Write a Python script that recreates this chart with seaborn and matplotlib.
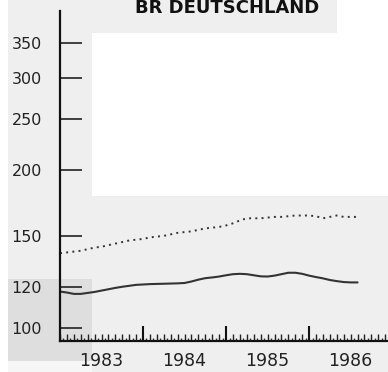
import numpy as np
import pandas as pd
import matplotlib
matplotlib.use('Agg')
import matplotlib.pyplot as plt
from matplotlib.patches import Rectangle
from matplotlib.ticker import FixedLocator, NullLocator
import seaborn as sns

title = 'BR DEUTSCHLAND'
years = ['1983', '1984', '1985', '1986']
y_ticks = [100, 120, 150, 200, 250, 300, 350]

# monthly values, Jan 1983 .. Aug 1986
upper = [139, 139.5, 140, 140.5, 141.5, 142.5, 143, 144, 145, 146,
         147, 147.5, 148, 149, 149.5, 150, 151, 152, 152.5, 153,
         154, 155, 155.5, 156, 157, 158.5, 160.5, 162, 162, 162,
         162.5, 163, 163, 163.5, 164, 164, 164, 163.5, 162, 163,
         164, 163, 163, 163]
lower = [117.5, 117, 116.3, 116.3, 116.8, 117.3, 118, 118.7, 119.4, 120,
         120.5, 121, 121.2, 121.4, 121.5, 121.6, 121.7, 121.8, 122, 122.8,
         123.8, 124.6, 125, 125.5, 126.2, 126.8, 127, 126.8, 126.2, 125.6,
         125.5, 126, 126.8, 127.6, 127.6, 127, 126, 125.2, 124.5, 123.6,
         123, 122.5, 122.3, 122.3]

df = pd.DataFrame({'month': np.arange(len(upper)), 'upper': upper, 'lower': lower})


def main():
    sns.set_style('ticks')
    plt.rcParams['font.family'] = ['DejaVu Sans']

    fig = plt.figure(figsize=(3.88, 3.72), dpi=100, facecolor='#efefef')

    # scanned page background
    W, H = 388.0, 372.0
    def box(x0, y0, x1, y1, color):
        fig.patches.append(Rectangle((x0 / W, 1 - y1 / H), (x1 - x0) / W, (y1 - y0) / H,
                                     transform=fig.transFigure, color=color, zorder=-10, lw=0))
    box(92, 33, 388, 196, 'white')
    box(337, 0, 388, 33, 'white')
    box(0, 0, 8, 372, 'white')
    box(8, 279, 92, 361, '#dedede')
    box(8, 361, 92, 372, '#f6f6f6')

    ax = fig.add_axes([60 / W, 31 / H, 328 / W, 330 / H])
    ax.set_facecolor('none')
    ax.set_yscale('log')

    sns.lineplot(data=df, x='month', y='upper', ax=ax, color='#333333', lw=1.4,
                 linestyle=(0, (1, 2.2)))
    sns.lineplot(data=df, x='month', y='lower', ax=ax, color='#333333', lw=1.5)

    ax.set_xlim(0, 47.4)
    ax.set_ylim(94.6, 402)
    ax.set_xlabel('')
    ax.set_ylabel('')

    for s in ['top', 'right']:
        ax.spines[s].set_visible(False)
    for s in ['left', 'bottom']:
        ax.spines[s].set_linewidth(1.6)
        ax.spines[s].set_color('#111111')

    # y axis
    ax.yaxis.set_major_locator(FixedLocator(y_ticks))
    ax.yaxis.set_minor_locator(NullLocator())
    ax.set_yticklabels([str(v) for v in y_ticks])
    ax.tick_params(axis='y', which='major', direction='in', length=16, width=1.2,
                   color='#222222', pad=13, labelsize=11.5, labelcolor='#222222')

    # x axis: year boundaries and months
    ax.set_xticks([12, 24, 36])
    ax.set_xticklabels([])
    ax.set_xticks(np.arange(0, 48), minor=True)
    ax.tick_params(axis='x', which='major', direction='in', length=11, width=1.5, color='#111111')
    ax.tick_params(axis='x', which='minor', direction='in', length=5, width=1.0, color='#222222')

    sec = ax.secondary_xaxis('bottom')
    sec.set_xticks([6, 18, 30, 42])
    sec.set_xticklabels(years)
    sec.set_xticks(np.arange(0.5, 48, 1), minor=True)
    sec.tick_params(axis='x', which='major', direction='in', length=0, pad=8,
                    labelsize=12.5, labelcolor='#222222')
    sec.tick_params(axis='x', which='minor', direction='in', length=2, width=1.0, color='#333333')
    sec.spines['bottom'].set_visible(False)

    fig.text(227 / W, 1 - 13 / H, title, ha='center', va='baseline',
             fontsize=13, fontweight='bold', color='#111111')

    plt.savefig('out.png', dpi=100, facecolor=fig.get_facecolor())


if __name__ == '__main__':
    main()
